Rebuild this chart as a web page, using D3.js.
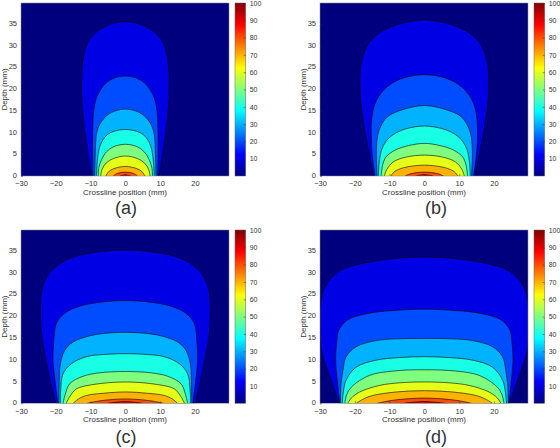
<!DOCTYPE html>
<html>
<head>
<meta charset="utf-8">
<script src="https://cdn.jsdelivr.net/npm/d3@7"></script>
<style>
body{margin:0;background:#fff}
text{font-family:"Liberation Sans",Arial,sans-serif;fill:#333}
</style>
</head>
<body>
<div id="chart"></div>
<script>
// dose contour levels (%) and tick values
var levels=[10,20,30,40,50,60,70,80,90];
var panelNames=["(a)","(b)","(c)","(d)"];
var xTicks=[-30,-20,-10,0,10,20];
var yTicks=[0,5,10,15,20,25,30,35];
var cbTicks=[10,20,30,40,50,60,70,80,90,100];
var jetStops=["#00007F","#0000FF","#007FFF","#00FFFF","#7FFF7F","#FFFF00","#FF7F00","#FF0000","#7F0000"];

// contour outlines: [half width (mm), depth (mm)], bottom to top, one list per level
var contoursA=[
  [[9.6,0],[10.7,5],[11.6,10],[12.3,15],[12.6,19],[12.5,24],[11.9,28],[10.6,31],[8.5,33],[5.5,34.5],[2.5,35.3],[0,35.5]],
  [[9.3,0],[9.4,5],[9.4,10],[9.1,15],[8.3,18],[7,20],[5.4,21.5],[3.3,22.5],[0,23]],
  [[8.8,0],[8.7,4],[8.5,8],[8.2,10],[7.3,12],[5.2,14],[2.8,15],[0,15.4]],
  [[8.3,0],[8.1,3],[7.6,6],[6.7,8],[5.2,9.5],[3.2,10.3],[0,10.7]],
  [[7.8,0],[7.6,2],[6.7,4],[5.5,5.5],[3.5,6.7],[0,7.3]],
  [[7.1,0],[6.7,1.5],[5.5,3],[3.5,4],[0,4.6]],
  [[5.6,0],[4.8,1],[3.3,1.7],[0,2.2]],
  [[3.5,0],[2.3,0.6],[0,0.9]],
  [[1.5,0],[0,0.3]]
];
var contoursB=[
  [[14.6,0],[15.8,5],[17,10],[18,15],[18.5,20],[18.3,25],[16.4,30],[12.8,33],[7,35],[3.5,35.6],[0,35.9]],
  [[14.2,0],[15,5],[15.3,10],[15,14],[14,17],[12,19.5],[9,21.5],[5,22.8],[0,23.3]],
  [[13.6,0],[13.8,5],[13.5,9],[12.5,11.5],[10.5,13.7],[6.5,15.2],[0,16.2]],
  [[13.2,0],[13,3],[12.3,6],[11,8],[9,9.5],[5.5,10.8],[0,11.5]],
  [[12.4,0],[12,2.5],[11,4.4],[8.3,6],[4.5,7],[0,7.5]],
  [[11.5,0],[10.8,1.5],[9,3.2],[5.5,4.3],[0,4.8]],
  [[9.6,0],[8.6,1],[6,1.9],[0,2.5]],
  [[5.5,0],[4,0.5],[0,0.9]],
  [[2.5,0],[0,0.3]]
];
var contoursC=[
  [[20.1,0],[21.5,5],[22.8,10],[24,15],[24.4,20],[24.2,25],[23.2,28],[21.7,30],[18.4,32.3],[14,33.8],[8.3,34.7],[0,35.2]],
  [[19.4,0],[20.2,5],[20.8,10],[20.6,14],[19.8,18.4],[17.4,20.7],[13.1,22.3],[7.4,23.2],[0,23.6]],
  [[19.1,0],[19,5],[18.7,9],[17.4,12.2],[15,14.1],[10.2,15.5],[5.5,16.1],[0,16.3]],
  [[18.7,0],[18.6,3],[17.9,6.8],[15.5,9.1],[11.2,10.7],[6.4,11.2],[0,11.4]],
  [[17.9,0],[17.3,2],[16,4.5],[12.2,6.2],[7.4,7],[0,7.3]],
  [[17,0],[16,1.5],[14.1,3.3],[9.3,4.3],[0,4.9]],
  [[15,0],[13.5,1],[11.2,1.8],[6.4,2.3],[0,2.6]],
  [[11,0],[7,0.6],[0,1]],
  [[5,0],[0,0.4]]
];
var contoursD=[
  [[24.5,0],[27.4,6.8],[29.6,12.2],[30,18.4],[29.8,23],[28.9,26.1],[26.3,29.2],[22.5,31.1],[16.7,32.3],[9.1,33.2],[0,33.6]],
  [[24.3,0],[25,5],[25.5,10],[25.2,14],[24.6,16.8],[22,19.2],[15.8,20.7],[9.1,21.3],[0,21.6]],
  [[24.1,0],[24,4],[23.4,7.6],[22.5,10.7],[19.6,13],[13.9,14.4],[8.1,14.8],[0,14.9]],
  [[23.6,0],[23.3,2.5],[22.5,5.3],[19.6,8.3],[13.9,9.9],[7.2,10.5],[0,10.7]],
  [[22.9,0],[22.3,2],[21,3.7],[15.8,6.4],[9.1,7.4],[0,7.7]],
  [[22,0],[21,1.2],[18.6,2.6],[12.9,4.1],[7.2,4.7],[0,4.9]],
  [[19.6,0],[17.5,1],[14.8,1.8],[8.1,2.6],[0,2.9]],
  [[13.5,0],[9,0.7],[0,1.2]],
  [[6,0],[0,0.4]]
];
var contours=[contoursA,contoursB,contoursC,contoursD];

var width=560, height=448;

// panel frames in pixels
var frames=[
  {x0:21, x1:229, y0:3, y1:176, cb:235, lx:126, ly:213.5},
  {x0:320,x1:528, y0:3, y1:176, cb:534, lx:436, ly:213.5},
  {x0:21, x1:229, y0:230,y1:403.3,cb:235, lx:126, ly:442.5},
  {x0:320,x1:528, y0:230,y1:403.3,cb:534, lx:436, ly:442.5}
];

var svg=d3.select("#chart").append("svg")
    .attr("width",width)
    .attr("height",height);

var jet=d3.piecewise(d3.interpolateRgb,jetStops);
var color=d3.scaleSequential(jet).domain([0,100]);

// colorbar gradient
var grad=svg.append("defs").append("linearGradient")
    .attr("id","jetgrad")
    .attr("x1",0).attr("y1",1).attr("x2",0).attr("y2",0);
grad.selectAll("stop")
    .data(d3.range(0,1.0001,0.025))
    .enter().append("stop")
    .attr("offset",d=>d)
    .attr("stop-color",d=>jet(d));

frames.forEach(function(f,i){
    var g=svg.append("g");

    var x=d3.scaleLinear().domain([-30,29.8]).range([f.x0,f.x1]);
    var y=d3.scaleLinear().domain([0,39.8]).range([f.y1,f.y0]);

    g.append("clipPath").attr("id","clip"+i)
        .append("rect")
        .attr("x",f.x0).attr("y",f.y0)
        .attr("width",f.x1-f.x0).attr("height",f.y1-f.y0);

    var plot=g.append("g").attr("clip-path","url(#clip"+i+")");

    plot.append("rect")
        .attr("x",f.x0).attr("y",f.y0)
        .attr("width",f.x1-f.x0).attr("height",f.y1-f.y0)
        .attr("fill",color(0));

    var line=d3.line()
        .x(d=>x(d[0]))
        .y(d=>y(d[1]))
        .curve(d3.curveCatmullRom.alpha(0.5));

    var shapes=contours[i].map(function(pts){
        var left=pts.map(p=>[-p[0],p[1]]);
        var right=pts.slice().reverse().slice(1);
        return left.concat(right);
    });

    plot.selectAll("path.band")
        .data(shapes)
        .enter().append("path")
        .attr("class","band")
        .attr("d",d=>line(d)+"Z")
        .attr("fill",(d,j)=>color(levels[j]))
        .attr("stroke","none");

    plot.selectAll("path.iso")
        .data(shapes)
        .enter().append("path")
        .attr("class","iso")
        .attr("d",d=>line(d))
        .attr("fill","none")
        .attr("stroke","#000")
        .attr("stroke-opacity",0.85)
        .attr("stroke-width",0.7);

    g.append("rect")
        .attr("x",f.x0).attr("y",f.y0)
        .attr("width",f.x1-f.x0).attr("height",f.y1-f.y0)
        .attr("fill","none")
        .attr("stroke","#888")
        .attr("stroke-width",0.5);

    // axes
    var xAxis=g.append("g")
        .attr("transform","translate(0,"+f.y1+")")
        .call(d3.axisBottom(x).tickValues(xTicks).tickSize(-2).tickPadding(5))
        .attr("font-size","7.5px");
    xAxis.select(".domain").remove();
    xAxis.selectAll("line").attr("stroke","#333").attr("stroke-width",0.5);

    var yAxis=g.append("g")
        .attr("transform","translate("+f.x0+",0)")
        .call(d3.axisLeft(y).tickValues(yTicks).tickSize(-2).tickPadding(4))
        .attr("font-size","7.5px");
    yAxis.select(".domain").remove();
    yAxis.selectAll("line").attr("stroke","#333").attr("stroke-width",0.5);
    yAxis.selectAll(".tick text").attr("dy","0.2em");
    g.selectAll(".tick text").attr("fill","#333").attr("font-family","Liberation Sans, Arial, sans-serif");

    g.append("text")
        .attr("x",(f.x0+f.x1)/2)
        .attr("y",f.y1+19)
        .attr("text-anchor","middle")
        .attr("font-size","8px")
        .text("Crossline position (mm)");

    g.append("text")
        .attr("transform","translate("+(f.x0-14)+","+((f.y0+f.y1)/2)+") rotate(-90)")
        .attr("text-anchor","middle")
        .attr("font-size","8px")
        .text("Depth (mm)");

    g.append("text")
        .attr("x",f.lx)
        .attr("y",f.ly)
        .attr("text-anchor","middle")
        .attr("font-size","18px")
        .attr("font-weight",300)
        .text(panelNames[i]);

    // colorbar
    var cy=d3.scaleLinear().domain([0,100]).range([f.y1,f.y0]);
    g.append("rect")
        .attr("x",f.cb).attr("y",f.y0)
        .attr("width",10.7).attr("height",f.y1-f.y0)
        .attr("fill","url(#jetgrad)")
        .attr("stroke","#666")
        .attr("stroke-width",0.5);

    var cbAxis=g.append("g")
        .attr("transform","translate("+(f.cb+10.7)+",0)")
        .call(d3.axisRight(cy).tickValues(cbTicks).tickSize(-2).tickPadding(4))
        .attr("font-size","7px");
    cbAxis.select(".domain").remove();
    cbAxis.selectAll("line").attr("stroke","#333").attr("stroke-width",0.5);
    cbAxis.selectAll("text").attr("fill","#333").attr("font-family","Liberation Sans, Arial, sans-serif");
});
</script>
</body>
</html>
